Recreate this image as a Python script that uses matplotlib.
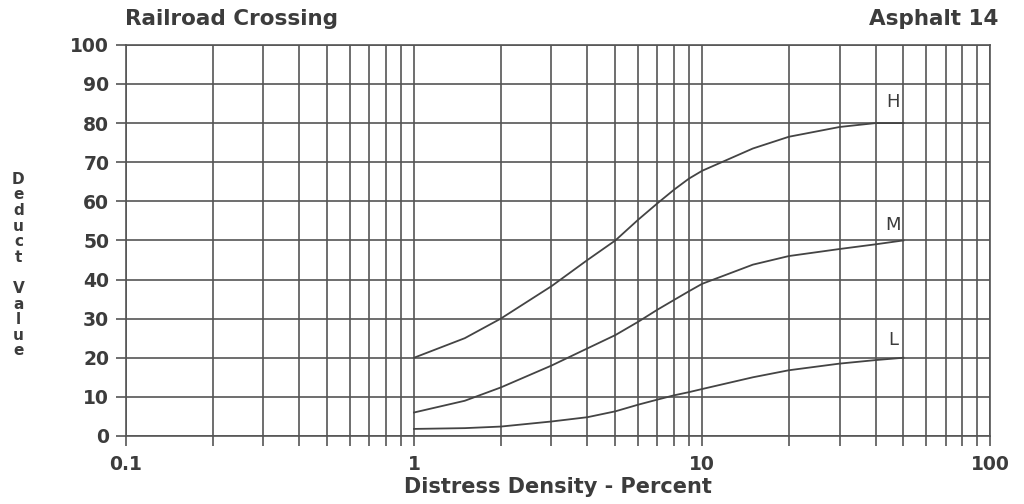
import numpy as np
import matplotlib
matplotlib.use("Agg")
import matplotlib.pyplot as plt
from matplotlib.ticker import LogLocator, FixedLocator, NullFormatter

# deduct value curves for railroad crossings (asphalt, distress 14)
density = [1, 1.5, 2, 3, 4, 5, 6, 7, 8, 9, 10, 15, 20, 30, 40, 50]
high = [20, 25, 30, 38.3, 45, 50, 55.3, 59.5, 63, 65.8, 67.8, 73.5, 76.5, 79, 80, 80]
medium = [6, 9, 12.4, 18, 22.4, 25.8, 29.2, 32.3, 34.8, 37, 38.9, 43.8, 46, 47.8, 49, 50]
low = [1.8, 2.0, 2.4, 3.7, 4.8, 6.3, 8, 9.3, 10.4, 11.2, 12, 15, 16.8, 18.5, 19.4, 20]
curve_names = ["H", "M", "L"]
label_y = [85.5, 54, 24.5]

x_ticks = [0.1, 1, 10, 100]
x_tick_labels = ["0.1", "1", "10", "100"]
y_ticks = list(range(0, 101, 10))

ink = "#3c3c3c"
grid_c = "#555555"

fig = plt.figure(figsize=(10.24, 5.04), dpi=100)
ax = fig.add_axes([0.123, 0.135, 0.844, 0.776])
ax.set_xscale("log")
ax.set_xlim(0.1, 100)
ax.set_ylim(0, 100)

ax.xaxis.set_major_locator(FixedLocator(x_ticks))
ax.xaxis.set_minor_locator(LogLocator(base=10, subs=np.arange(2, 10)))
ax.xaxis.set_minor_formatter(NullFormatter())
ax.set_xticks(x_ticks)
ax.set_xticklabels(x_tick_labels)
ax.set_yticks(y_ticks)

ax.grid(True, which="both", axis="x", color=grid_c, lw=1.2)
ax.grid(True, which="major", axis="y", color=grid_c, lw=1.2)
for s in ax.spines.values():
    s.set_color(grid_c)
    s.set_linewidth(1.2)

ax.tick_params(axis="both", which="both", length=7, width=1.2, color=grid_c,
               labelcolor=ink, labelsize=13.5)
ax.tick_params(axis="x", pad=7)
ax.tick_params(axis="y", pad=5)
for lab in ax.get_xticklabels() + ax.get_yticklabels():
    lab.set_fontweight("bold")

for vals in (high, medium, low):
    ax.plot(density, vals, color="#444444", lw=1.3)

for name, yy in zip(curve_names, label_y):
    ax.text(46, yy, name, fontsize=13, color=ink, ha="center", va="center")

ax.set_xlabel("Distress Density - Percent", fontsize=15, fontweight="bold",
              color=ink, labelpad=2)

fig.text(0.122, 0.962, "Railroad Crossing", fontsize=15.5, fontweight="bold",
         color=ink, ha="left", va="center")
fig.text(0.975, 0.962, "Asphalt 14", fontsize=15.5, fontweight="bold",
         color=ink, ha="right", va="center")

# stacked vertical axis title
fig.text(0.018, 0.474, "\n".join("Deduct Value"), fontsize=11, fontweight="bold",
         color=ink, ha="center", va="center", linespacing=1.05)

fig.savefig("out.png", dpi=100)
